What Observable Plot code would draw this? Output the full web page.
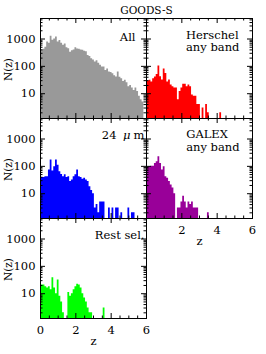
<!DOCTYPE html>
<html>
<head>
<meta charset="utf-8">
<script src="https://cdn.jsdelivr.net/npm/d3@7"></script>
<script src="https://cdn.jsdelivr.net/npm/@observablehq/plot@0.6"></script>
<style>
html, body { margin: 0; padding: 0; background: #fff; }
#chart { position: relative; width: 266px; height: 354px; overflow: hidden; background: #fff; }
#chart svg { position: absolute; left: 0; top: 0; }
</style>
</head>
<body>
<div id="chart"></div>
<script>
// ---- data ----
const title = "GOODS-S";
const zBinWidth = 0.1;
const zBinStart = -0.05;

const nAll = [390,400,420,500,780,700,1250,900,1000,1180,780,890,700,590,650,480,440,330,370,400,
              480,430,420,400,390,360,340,250,230,190,170,144,160,130,110,95,95,71,80,62,
              60,54,45,41,62,40,35,28,31,25,18,20,16,13,16,12,8,6,5,0];
const nHerschel = [80,29,31,27,35,41,50,103,42,32,80,55,27,32,21,18,16,16,6,12,
                   16,22,22,18,21,18,9,8,8,4,4,0,3,0,4,2,0,0,0,0,
                   0,0,2,0,0,0,0,0,0,0,0,0,0,0,0,0,0,0,0,0];
const n24um = [195,39,39,42,42,74,170,68,97,170,110,64,50,42,49,39,42,28,32,42,
               49,74,42,39,34,37,32,28,18,13,10,3,4,2,5,5,5,0,0,3,
               0,3,0,3,3,0,2,0,0,0,3,0,2,2,0,0,0,0,0,0];
const nGalex = [195,97,97,100,100,128,147,225,128,74,97,42,37,28,21,16,10,0,3,3,
                5,8,5,3,5,4,5,3,3,3,0,0,0,0,0,2,0,0,0,0,
                0,0,0,0,0,0,0,0,0,0,0,0,0,0,0,0,0,0,0,0];
const nRest = [21,21,21,18,16,18,14,38,16,10,32,8,5,2,0,0,11,8,10,14,
               18,22,21,16,10,7,5,3,2,2,0,0,0,0,0,0,3,0,0,0,
               0,0,0,0,0,0,0,0,0,0,0,0,0,0,0,0,0,0,0,0];

const xMajorTicks = [0, 2, 4, 6];
const xMinorTicks = [0.5, 1, 1.5, 2.5, 3, 3.5, 4.5, 5, 5.5];
const yMajorTicks = [10, 100, 1000];
const yMinorTicks = [2,3,4,5,6,7,8,9,20,30,40,50,60,70,80,90,200,300,400,500,600,700,800,900,2000,3000,4000,5000];
const yTickLabels = [10, 100, 1000];
const xTickLabelsBottom = [0, 2, 4, 6];
const xTickLabelsRight = [2, 4, 6];

const yDomain = [1.24, 5620];
const yFloor = 0.1;

// ---- layout ----
const W = 266, H = 354;
const colLeft = [40, 146];
const rowTop = [18, 118, 218];
const PW = 106, PH = 100;
const font = "DejaVu Serif";

function histPoints(values) {
  const pts = values.map((n, i) => ({z: zBinStart + i * zBinWidth, n: n > 0 ? n : yFloor}));
  pts.push({z: zBinStart + values.length * zBinWidth, n: pts[pts.length - 1].n});
  return pts;
}

function panel(values, color, col, row, extra) {
  const left = colLeft[col], top = rowTop[row];
  const marks = [
    Plot.area(histPoints(values), {x1: "z", y1: yFloor, y2: "n", curve: "step-after", fill: color, clip: true}),
    Plot.tickX(xMajorTicks, {x: d => d, insetTop: PH - 5, stroke: "#000"}),
    Plot.tickX(xMajorTicks, {x: d => d, insetBottom: PH - 5, stroke: "#000"}),
    Plot.tickX(xMinorTicks, {x: d => d, insetTop: PH - 2.5, stroke: "#000"}),
    Plot.tickX(xMinorTicks, {x: d => d, insetBottom: PH - 2.5, stroke: "#000"}),
    Plot.tickY(yMajorTicks, {y: d => d, insetRight: PW - 5, stroke: "#000"}),
    Plot.tickY(yMajorTicks, {y: d => d, insetLeft: PW - 5, stroke: "#000"}),
    Plot.tickY(yMinorTicks, {y: d => d, insetRight: PW - 2.5, stroke: "#000"}),
    Plot.tickY(yMinorTicks, {y: d => d, insetLeft: PW - 2.5, stroke: "#000"}),
    Plot.frame({stroke: "#000"}),
    ...extra
  ];
  if (col === 0) {
    marks.push(Plot.axisY(yTickLabels, {anchor: "left", tickSize: 0, tickPadding: 5, tickFormat: d => String(d), label: null, fontSize: 11.5}));
    marks.push(Plot.text(["N(z)"], {frameAnchor: "left", textAnchor: "middle", rotate: -90, dx: -32, dy: 1, fontSize: 10.5}));
  }
  const svg = Plot.plot({
    width: W, height: H,
    marginLeft: left, marginRight: W - left - PW,
    marginTop: top, marginBottom: H - top - PH,
    x: {type: "linear", domain: [0, 6], axis: null},
    y: {type: "log", domain: yDomain, axis: null},
    style: {background: "transparent", fontFamily: font, fontSize: "11.5px", color: "#000", overflow: "visible"},
    marks
  });
  document.getElementById("chart").appendChild(svg);
}

function xLabels(ticks) {
  return [
    Plot.axisX(ticks, {anchor: "bottom", tickSize: 0, tickPadding: 7, tickFormat: d => String(d), label: null, fontSize: 11.5}),
    Plot.text(["z"], {frameAnchor: "bottom", textAnchor: "middle", lineAnchor: "middle", dy: 22.5, fontSize: 11.5})
  ];
}

panel(nAll, "#999999", 0, 0, [
  Plot.text([title], {frameAnchor: "top-right", textAnchor: "middle", lineAnchor: "middle", dy: -7.6, fontSize: 10.5}),
  Plot.text(["All"], {frameAnchor: "top-right", textAnchor: "end", lineAnchor: "top", dx: -11, dy: 14})
]);
panel(nHerschel, "#ff0000", 1, 0, [
  Plot.text(["Herschel\nany band"], {frameAnchor: "top-left", textAnchor: "start", lineAnchor: "top", lineHeight: 1.1, dx: 39.5, dy: 11.1})
]);
panel(n24um, "#0000ff", 0, 1, [
  Plot.text(["24"], {frameAnchor: "top-right", textAnchor: "end", lineAnchor: "top", dx: -30, dy: 12.3}),
  Plot.text(["μ"], {frameAnchor: "top-right", textAnchor: "start", lineAnchor: "top", dx: -23.5, dy: 12.3, fontStyle: "italic"}),
  Plot.text(["m"], {frameAnchor: "top-right", textAnchor: "end", lineAnchor: "top", dx: -2, dy: 12.3})
]);
panel(nGalex, "#990099", 1, 1, [
  Plot.text(["GALEX\nany band"], {frameAnchor: "top-left", textAnchor: "start", lineAnchor: "top", lineHeight: 1.1, dx: 39.7, dy: 10.7}),
  ...xLabels(xTickLabelsRight)
]);
panel(nRest, "#00ff00", 0, 2, [
  Plot.text(["Rest sel."], {frameAnchor: "top-right", textAnchor: "end", lineAnchor: "top", dx: -2, dy: 12.5}),
  ...xLabels(xTickLabelsBottom)
]);
</script>
</body>
</html>
